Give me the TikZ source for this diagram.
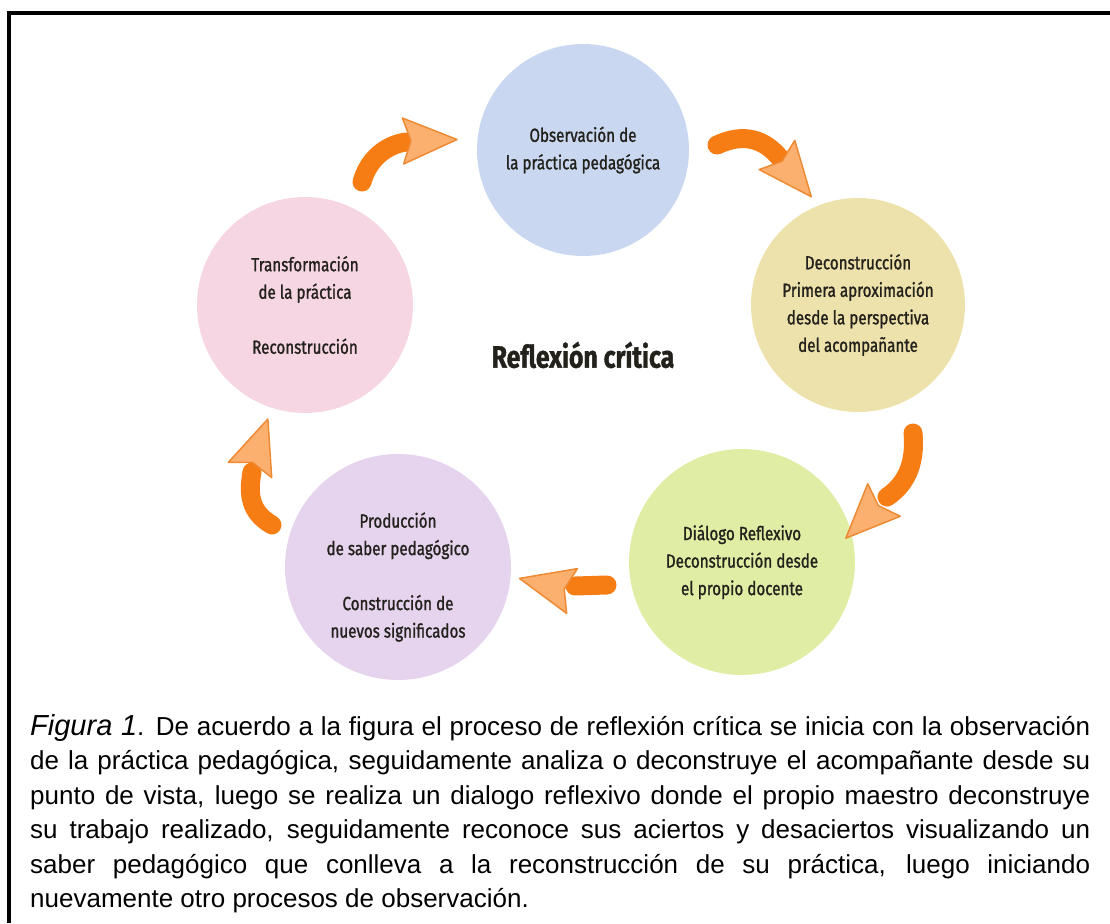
\documentclass[tikz,border=0pt]{standalone}
\usepackage{fontspec}
\setmainfont{Liberation Sans}
\newfontfamily\stagefont[FakeStretch=0.8,FakeBold=1.2]{Fira Sans}
\usetikzlibrary{positioning}
\definecolor{obsblue}{RGB}{201,216,240}
\definecolor{decontan}{RGB}{238,226,172}
\definecolor{dialgreen}{RGB}{224,237,165}
\definecolor{prodlilac}{RGB}{230,211,238}
\definecolor{transpink}{RGB}{247,214,228}
\definecolor{arrowbody}{RGB}{246,124,20}
\definecolor{arrowfill}{RGB}{251,176,112}
\definecolor{arrowedge}{RGB}{238,138,52}
\definecolor{stagetext}{RGB}{35,33,28}
\tikzset{
  stagetxt/.style={align=center,text=stagetext,font=\stagefont\fontsize{19}{27.5}\selectfont},
  stage/.style={circle,minimum size=#1,inner sep=0pt,stagetxt},
  flecha/.style={arrowbody,line width=19pt,line cap=round},
  punta/.style={fill=arrowfill,draw=arrowedge,line width=1.5pt,line join=round}
}
\newcommand{\punta}[2]{\filldraw[punta,shift={#1},rotate=#2] (54,0) -- (0,23) -- (8,0) -- (0,-23) -- cycle;}

\begin{document}
\begin{tikzpicture}[x=1pt,y=-1pt]
  \useasboundingbox (0,0) rectangle (1110,923);
  \draw[line width=3.5pt] (9,923) -- (9,13) -- (1110,13);

  \node[stage=212pt,fill=obsblue] (obs) at (583,150) {Observación de\\la práctica pedagógica};
  \node[stage=214pt,fill=decontan] (decon) at (858,305) {Deconstrucción\\Primera aproximación\\desde la perspectiva\\del acompañante};
  \node[stage=226pt,fill=dialgreen] (dialogo) at (742,562) {Diálogo Reflexivo\\Deconstrucción desde\\el propio docente};
  \node[stage=226pt,fill=prodlilac] (prod) at (398,567) {};
  \node[stagetxt] (prodtxt) at ([yshift=-10pt]prod.center) {Producción\\de saber pedagógico\\[27.5pt]Construcción de\\nuevos significados};
  \node[stage=216pt,fill=transpink] (transf) at (305,305) {Transformación\\de la práctica\\[27.5pt]Reconstrucción};
  \node[text=stagetext,font=\stagefont\bfseries\fontsize{31}{36}\selectfont] (centro) at (583,355) {Reflexión crítica};

  \coordinate (a1) at (362,182);
  \coordinate (b1) at (406,142);
  \coordinate (a2) at (717,145);
  \coordinate (b2) at (780,158);
  \coordinate (a3) at (913,433);
  \coordinate (b3) at (887,497);
  \coordinate (a4) at (607,585);
  \coordinate (b4) at (575,586);
  \coordinate (a5) at (272,525);
  \coordinate (b5) at (252,472);

  \draw[flecha] (a1) .. controls (368,160) and (385,145) .. (b1);
  \punta{(403,141)}{1.6}
  \draw[flecha] (a2) .. controls (745,132) and (765,140) .. (b2);
  \punta{(777,155)}{-50.6}
  \draw[flecha] (a3) .. controls (916,465) and (905,485) .. (b3);
  \punta{(884,500)}{-135}
  \draw[flecha] (a4) -- (b4);
  \punta{(572,591)}{166.5}
  \draw[flecha] (a5) .. controls (250,512) and (248,495) .. (b5);
  \punta{(250,470)}{70.7}

  \node[anchor=base west,inner sep=0pt,text width=1060pt,align=justify,
    font=\fontsize{26}{34.5}\selectfont] (pie) at (30,735)
    {\hyphenpenalty=10000\relax{\fontsize{29}{34.5}\selectfont\itshape Figura 1}. De acuerdo a la figura el proceso de reflexión crítica se inicia con la observación\linebreak
    de la práctica pedagógica, seguidamente analiza o deconstruye el acompañante desde su\linebreak
    punto de vista, luego se realiza un dialogo reflexivo donde el propio maestro deconstruye\linebreak
    su trabajo realizado, seguidamente reconoce sus aciertos y desaciertos visualizando un\linebreak
    saber pedagógico que conlleva a la reconstrucción de su práctica, luego iniciando\linebreak
    nuevamente otro procesos de observación.};
\end{tikzpicture}
\end{document}
